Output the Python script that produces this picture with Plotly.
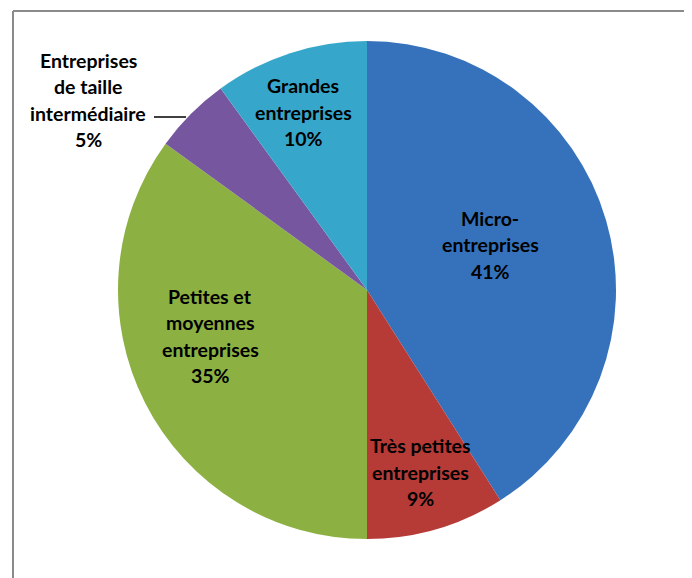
import plotly.graph_objects as go

OFF = 8  # page body margin offset
W, H = 692 - OFF, 578 - OFF

labels = ["Micro-entreprises", "Très petites entreprises",
          "Petites et moyennes entreprises",
          "Entreprises de taille intermédiaire", "Grandes entreprises"]
values = [41, 9, 35, 5, 10]
label_lines = [["Micro-", "entreprises"], ["Très petites", "entreprises"],
               ["Petites et", "moyennes", "entreprises"],
               ["Entreprises", "de taille", "intermédiaire"],
               ["Grandes", "entreprises"]]
colors = ["#3672BC", "#B63B37", "#8CB142", "#7756A0", "#36A7CB"]

# label centres in screen pixels (layout only)
label_pos = [(490, 245), (420, 472), (210, 336), (88, 100), (303, 112)]
PITCH = 26.5

cx, cy, R = 367, 290, 249


def px(x):
    return (x - OFF) / W


def py(y):
    return (H - (y - OFF)) / H


fig = go.Figure(go.Pie(
    labels=labels, values=values, sort=False, direction="clockwise",
    rotation=0, textinfo="none", hoverinfo="label+percent",
    marker=dict(colors=colors, line=dict(width=0)),
    domain=dict(x=[px(cx - R), px(cx + R)], y=[py(cy + R), py(cy - R)]),
    showlegend=False,
))

annotations = []
total = sum(values)
for lines, v, (lx, ly) in zip(label_lines, values, label_pos):
    all_lines = lines + [f"{round(100 * v / total)}%"]
    n = len(all_lines)
    for i, t in enumerate(all_lines):
        yy = ly + (i - (n - 1) / 2) * PITCH
        annotations.append(dict(
            x=px(lx), y=py(yy), xref="paper", yref="paper", text=t,
            showarrow=False, xanchor="center", yanchor="middle",
            font=dict(family="Lato", size=19.5, color="black", weight="bold")))

shapes = [
    dict(type="line", xref="paper", yref="paper", x0=px(13), x1=1.0,
         y0=py(11), y1=py(11), line=dict(color="#8a8a8a", width=2)),
    dict(type="line", xref="paper", yref="paper", x0=px(13), x1=px(13),
         y0=py(11), y1=0, line=dict(color="#8a8a8a", width=2)),
    dict(type="line", xref="paper", yref="paper", x0=px(154), x1=px(186),
         y0=py(117), y1=py(117), line=dict(color="black", width=1.5)),
]

fig.update_layout(
    width=W, height=H, margin=dict(l=0, r=0, t=0, b=0),
    paper_bgcolor="white", plot_bgcolor="white",
    annotations=annotations, shapes=shapes,
)

fig.write_html("out.html")
